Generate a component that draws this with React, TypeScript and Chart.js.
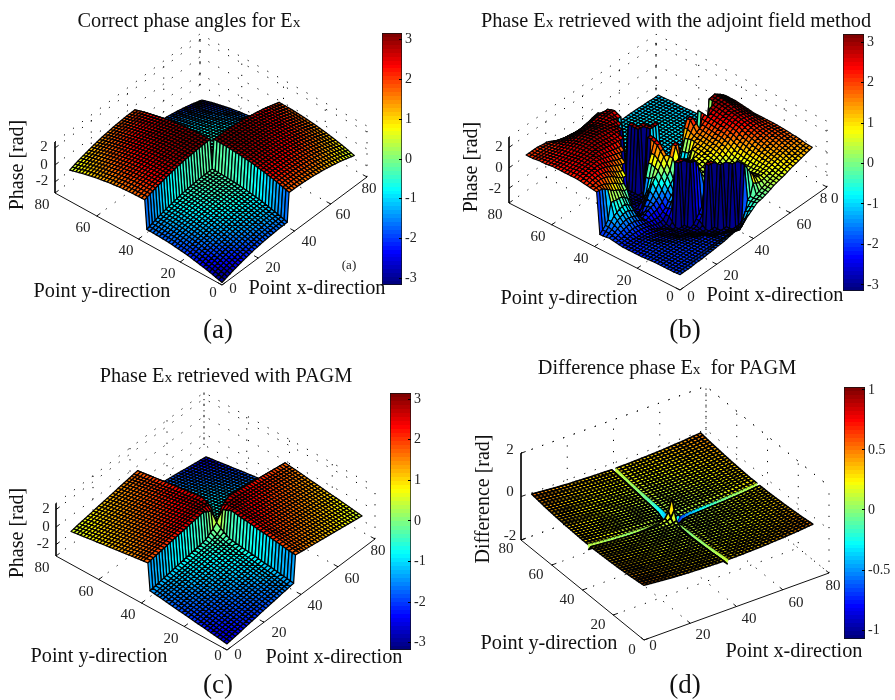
import React, { useEffect, useRef } from 'react';
import { Chart, registerables } from 'chart.js';

Chart.register(...registerables);

const FONT = '"Liberation Serif"';

// ---- tick labels ----
const axisTicks = [0, 20, 40, 60, 80];
const axisTickLabels = ['0', '20', '40', '60', '80'];
const axisTickLabelsB = ['0', '20', '40', '60', '8 0'];
const phaseZTicks = [-2, 0, 2];
const diffZTicks = [-2, 0, 2];
const phaseBarTicks = [-3, -2, -1, 0, 1, 2, 3];
const diffBarTicks = [-1, -0.5, 0, 0.5, 1];

// ---- grids (point index along each direction) ----
const gridA = [0, 6, 12, 18, 24, 30, 36, 37, 43, 49, 55, 61, 67, 73];
const gridB = [0, 3, 6, 9, 12, 15, 18, 21, 24, 27, 30, 33, 36, 39, 42, 45, 48, 51, 54, 57, 60, 63, 66, 69, 72];
const gridC = [0, 6, 12, 18, 24, 30, 34, 36, 37, 39, 43, 49, 55, 61, 67, 73];
const gridD = [0, 8, 16, 24, 30, 33, 34.5, 36, 36.4, 38, 40, 43, 49, 57, 65, 73];

// ---- phase values, one row per y grid line ----
const phaseA = [
  [-3.01, -2.58, -2.24, -1.97, -1.78, -1.67, -1.63, 1.72, 1.68, 1.57, 1.38, 1.11, 0.77, 0.34],
  [-2.58, -2.15, -1.81, -1.54, -1.35, -1.24, -1.2, 2.15, 2.11, 2.0, 1.81, 1.54, 1.2, 0.77],
  [-2.24, -1.81, -1.47, -1.2, -1.01, -0.9, -0.86, 2.49, 2.45, 2.34, 2.15, 1.88, 1.54, 1.11],
  [-1.97, -1.54, -1.2, -0.93, -0.74, -0.63, -0.59, 2.76, 2.72, 2.61, 2.42, 2.15, 1.81, 1.38],
  [-1.78, -1.35, -1.01, -0.74, -0.55, -0.44, -0.4, 2.95, 2.91, 2.8, 2.61, 2.34, 2.0, 1.57],
  [-1.67, -1.24, -0.9, -0.63, -0.44, -0.33, -0.29, 3.06, 3.02, 2.91, 2.72, 2.45, 2.11, 1.68],
  [-1.63, -1.2, -0.86, -0.59, -0.4, -0.29, -0.25, 3.1, 3.06, 2.95, 2.76, 2.49, 2.15, 1.72],
  [1.72, 2.15, 2.49, 2.76, 2.95, 3.06, 3.1, -0.25, -0.29, -0.4, -0.59, -0.86, -1.2, -1.63],
  [1.68, 2.11, 2.45, 2.72, 2.91, 3.02, 3.06, -0.29, -0.33, -0.44, -0.63, -0.9, -1.24, -1.67],
  [1.57, 2.0, 2.34, 2.61, 2.8, 2.91, 2.95, -0.4, -0.44, -0.55, -0.74, -1.01, -1.35, -1.78],
  [1.38, 1.81, 2.15, 2.42, 2.61, 2.72, 2.76, -0.59, -0.63, -0.74, -0.93, -1.2, -1.54, -1.97],
  [1.11, 1.54, 1.88, 2.15, 2.34, 2.45, 2.49, -0.86, -0.9, -1.01, -1.2, -1.47, -1.81, -2.24],
  [0.77, 1.2, 1.54, 1.81, 2.0, 2.11, 2.15, -1.2, -1.24, -1.35, -1.54, -1.81, -2.15, -2.58],
  [0.34, 0.77, 1.11, 1.38, 1.57, 1.68, 1.72, -1.63, -1.67, -1.78, -1.97, -2.24, -2.58, -3.01],
];

const phaseB = [
  [-1.95, -1.95, -1.95, -1.9, -1.9, -1.85, -1.8, -1.75, -1.7, -1.6, -1.5, -1.4, -1.0, -0.6, -0.2, -0.1, 0.1, 0.35, 0.5, 0.65, 0.85, 1, 1.15, 1.3, 1.45],
  [-2, -2, -2, -2, -2, -2, -2, -2, -2, -2.05, -2.1, -2.2, -2.4, -1.0, -0.4, -0.1, 0.15, 0.4, 0.6, 0.8, 1, 1.15, 1.3, 1.4, 1.5],
  [-2, -2, -2, -2, -2, -2, -2, -2.05, -2.1, -2.2, -2.3, -2.5, -2.8, -3, 2.9, 1.8, 0.9, 0.7, 0.8, 1, 1.2, 1.4, 1.5, 1.6, 1.65],
  [-2, -2, -2, -2, -2, -2, -2.05, -2.1, -2.1, -2.4, -2.8, -3.05, -3.1, 3, 2.9, 1.6, 0.8, 0.6, 0.8, 1.1, 1.3, 1.5, 1.7, 1.75, 1.7],
  [-2, -2, -2, -2, -2, -2, -2.1, -2.2, -2.4, -2.7, -3, -3.1, 3, 2.9, 2, 1.1, 0.5, 0.5, 0.8, 1.2, 1.5, 1.7, 1.9, 1.9, 1.8],
  [-2.05, -2, -2, -2, -2, -2.1, -2.2, -2.4, -2.6, -2.9, -3.1, 3, 2.9, 1.9, 1.2, 0.6, 0.3, 0.5, 0.9, 1.3, 1.7, 1.9, 2, 2, 1.85],
  [-2.1, -2.05, -2, -2, -2.1, -2.2, -2.4, -2.7, -2.9, -3, -2.9, -2.2, -1.3, -0.5, 0, 0.3, 0.3, 0.6, 1, 1.5, 1.9, 2.1, 2.1, 2, 1.9],
  [-2.1, -2.1, -2.05, -2.05, -2.2, -2.3, -2.5, -2.8, -3, -3.1, 3, 2.8, 1.2, 0.2, 0.2, 0.4, 0.5, 0.8, 1.2, 1.7, 2.1, 2.3, 2.3, 2.1, 1.9],
  [-2.1, -2.1, -2.1, -2.1, -2.2, -2.4, -2.6, -2.7, -3.1, 3, 2.9, 2.5, 0.8, 0.4, 0.5, 0.7, 0.9, 1.2, 1.6, 2, 2.4, 2.5, 2.4, 2.2, 1.9],
  [-2.1, -2.1, -2.1, -2.2, -2.2, -2.3, -2.6, -2.9, -2.9, -1.8, -0.8, -0.5, -0.4, 0.7, 0.7, 0.9, 1.1, 1.4, 1.8, 2.2, 2.5, 2.7, 2.6, 2.3, 1.9],
  [-2, -2, -1.9, -1.8, -1.9, -2.1, -2.3, -2.4, -2.4, -2, -1.2, -0.8, 0.8, -0.8, 0.9, 1, 1.2, 1.5, 1.9, 2.3, 2.6, 2.8, 2.7, 2.4, 2],
  [-1.9, -1.7, -1.4, -1.2, -1.3, -1.6, -2.2, -1.8, -1.6, -1.2, -0.3, 0.6, 2.6, -1, -0.9, 1.1, 1.3, 1.6, 2, 2.4, 2.7, 2.9, 2.9, 2.5, 2.1],
  [-2, -1.5, -0.8, -0.5, -0.4, -0.9, -2.5, -2.4, -1.4, -0.2, 0.6, 1.6, -1, -1, -1, -0.9, 1.4, 1.7, 2.1, 2.5, 2.8, 3, 3, 2.6, 2.2],
  [2, 1.9, 1.5, 1, 0.7, 0.2, -2.6, -2.9, -2.8, -1.5, 0.9, 2.4, -1, -1, -1, -1, 1.2, 2.6, -0.3, 2.6, 0.2, 3, 3.1, 2.7, 2.2],
  [2.1, 2.2, 2.2, 2, 1.7, 1.2, 0.8, -2.6, -2.9, -2.9, -3, 2.7, -1, -1, -1, -1, -1, -1, -1, -1, -1, -1, -1, -1, -1],
  [2.2, 2.4, 2.5, 2.5, 2.3, 2, 1.7, 1.4, -2.8, -3, -3.1, -3.1, 3, 2.9, -1, -1, -1, -1, -1, -1, -1, -1, -1, -1, -1],
  [2.3, 2.5, 2.6, 2.7, 2.7, 2.5, 2.3, 2.1, 1.9, -3, -3.1, 3, 2.9, -1, -1, -1, -1, -0.95, -0.95, -0.95, -1, -1, -1, -1, -1],
  [2.3, 2.5, 2.6, 2.7, 2.8, 2.8, 2.7, 2.6, 2.5, 2.4, -3.1, 3, -1, -1, -0.95, -0.95, -0.9, -0.9, -0.9, -0.95, -0.95, -1, -1, -1, -1],
  [2.3, 2.4, 2.6, 2.7, 2.8, 2.9, 2.9, 2.8, 2.7, 2.7, 2.6, -1, -0.95, -0.95, -0.9, -0.9, -0.9, -0.9, -0.9, -0.9, -0.95, -0.95, -1, -1, -1],
  [2.3, 2.4, 2.5, 2.6, 2.8, 2.9, 3, 3, 2.9, 2.8, 2.7, 2.4, -0.95, -0.95, -0.9, -0.9, -0.85, -0.85, -0.9, -0.9, -0.9, -0.95, -1, -1, -1],
  [2.3, 2.3, 2.4, 2.5, 2.7, 2.8, 2.9, 2.9, 2.9, 2.8, 2.7, 2.7, 2.4, -0.95, -0.9, -0.9, -0.85, -0.85, -0.85, -0.9, -0.9, -0.95, -1, -1, -1.05],
  [2.2, 2.3, 2.3, 2.4, 2.5, 2.6, 2.7, 2.7, 2.7, 2.6, 2.6, 2.7, 2.7, -0.95, -0.9, -0.9, -0.85, -0.85, -0.9, -0.9, -0.95, -0.95, -1, -1, -1.05],
  [2.2, 2.2, 2.2, 2.2, 2.3, 2.3, 2.3, 2.3, 2.3, 2.3, 2.4, 2.5, 2.5, -0.95, -0.9, -0.9, -0.9, -0.9, -0.9, -0.95, -0.95, -1, -1, -1.05, -1.05],
  [2.1, 2.1, 2.1, 2.1, 2.1, 2, 1.9, 1.8, 1.7, 1.7, 1.8, 1.9, 1.9, 1.5, -0.95, -0.95, -0.95, -0.95, -0.95, -1, -1, -1, -1.05, -1.05, -1.1],
  [2.1, 2.1, 2.1, 2, 1.9, 1.6, 1.3, 1.1, 1, 0.9, 0.9, 1, 1.2, 1.3, 0.8, -0.9, -1, -1, -1, -1, -1, -1.05, -1.05, -1.1, -1.1],
];

const phaseC = [
  [-2.6, -2.39, -2.18, -1.97, -1.77, -1.56, -1.43, -1.37, 1.68, 1.62, 1.49, 1.28, 1.08, 0.87, 0.66, 0.45],
  [-2.39, -2.18, -1.97, -1.76, -1.56, -1.35, -1.22, -1.16, 1.89, 1.83, 1.7, 1.49, 1.29, 1.08, 0.87, 0.66],
  [-2.18, -1.97, -1.76, -1.55, -1.35, -1.14, -1.01, -0.95, 2.1, 2.04, 1.91, 1.7, 1.5, 1.29, 1.08, 0.87],
  [-1.97, -1.76, -1.55, -1.34, -1.14, -0.93, -0.8, -0.74, 2.31, 2.25, 2.12, 1.91, 1.71, 1.5, 1.29, 1.08],
  [-1.77, -1.56, -1.35, -1.14, -0.94, -0.73, -0.6, -0.54, 2.51, 2.45, 2.32, 2.11, 1.91, 1.7, 1.49, 1.28],
  [-1.56, -1.35, -1.14, -0.93, -0.73, -0.52, -0.39, -0.33, 2.72, 2.66, 2.53, 2.32, 2.12, 1.91, 1.7, 1.49],
  [-1.43, -1.22, -1.01, -0.8, -0.6, -0.39, -0.05, 0.3, 2.3, 2.6, 2.66, 2.45, 2.25, 2.04, 1.83, 1.62],
  [-1.37, -1.16, -0.95, -0.74, -0.54, -0.33, 0.3, 0.7, 1.1, 2.2, 2.72, 2.51, 2.31, 2.1, 1.89, 1.68],
  [1.68, 1.89, 2.1, 2.31, 2.51, 2.72, 2.2, 1.1, 0.6, 0.25, -0.33, -0.54, -0.74, -0.95, -1.16, -1.37],
  [1.62, 1.83, 2.04, 2.25, 2.45, 2.66, 2.6, 2.2, 0.25, -0.05, -0.39, -0.6, -0.8, -1.01, -1.22, -1.43],
  [1.49, 1.7, 1.91, 2.12, 2.32, 2.53, 2.66, 2.72, -0.33, -0.39, -0.52, -0.73, -0.93, -1.14, -1.35, -1.56],
  [1.28, 1.49, 1.7, 1.91, 2.11, 2.32, 2.45, 2.51, -0.54, -0.6, -0.73, -0.94, -1.14, -1.35, -1.56, -1.77],
  [1.08, 1.29, 1.5, 1.71, 1.91, 2.12, 2.25, 2.31, -0.74, -0.8, -0.93, -1.14, -1.34, -1.55, -1.76, -1.97],
  [0.87, 1.08, 1.29, 1.5, 1.7, 1.91, 2.04, 2.1, -0.95, -1.01, -1.14, -1.35, -1.55, -1.76, -1.97, -2.18],
  [0.66, 0.87, 1.08, 1.29, 1.49, 1.7, 1.83, 1.89, -1.16, -1.22, -1.35, -1.56, -1.76, -1.97, -2.18, -2.39],
  [0.45, 0.66, 0.87, 1.08, 1.28, 1.49, 1.62, 1.68, -1.37, -1.43, -1.56, -1.77, -1.97, -2.18, -2.39, -2.6],
];

const differenceD = [
  [0.52, 0.44, 0.38, 0.34, 0.32, 0.31, 0.31, 0.12, 0.31, 0.31, 0.31, 0.32, 0.34, 0.38, 0.44, 0.52],
  [0.44, 0.36, 0.3, 0.26, 0.24, 0.23, 0.23, 0.07, 0.23, 0.23, 0.23, 0.24, 0.26, 0.3, 0.36, 0.44],
  [0.38, 0.3, 0.23, 0.19, 0.17, 0.17, 0.17, 0.03, 0.17, 0.17, 0.17, 0.17, 0.19, 0.23, 0.3, 0.38],
  [0.34, 0.26, 0.19, 0.15, 0.13, 0.13, 0.13, 0.0, 0.13, 0.13, 0.13, 0.13, 0.15, 0.19, 0.26, 0.34],
  [0.32, 0.24, 0.17, 0.13, 0.11, 0.11, 0.12, 0.03, 0.1, 0.11, 0.11, 0.11, 0.13, 0.17, 0.24, 0.32],
  [0.31, 0.23, 0.17, 0.13, 0.11, 0.12, 0.15, 0.2, 0.05, 0.05, 0.1, 0.11, 0.13, 0.17, 0.23, 0.31],
  [0.31, 0.23, 0.17, 0.13, 0.14, 0.2, 0.3, 0.6, -0.4, -0.1, 0.05, 0.1, 0.13, 0.17, 0.23, 0.31],
  [0.1, 0.06, 0.03, 0.06, 0.12, 0.25, 0.5, 1.1, 0.5, -0.7, -0.6, -0.45, -0.25, -0.05, 0.06, 0.1],
  [0.31, 0.23, 0.17, 0.13, 0.11, 0.15, 0.3, 0.8, 0.1, -0.3, 0.05, 0.1, 0.13, 0.17, 0.23, 0.31],
  [0.31, 0.23, 0.17, 0.13, 0.1, 0.05, -0.1, -0.5, -0.3, -0.05, 0.05, 0.1, 0.13, 0.17, 0.23, 0.31],
  [0.31, 0.23, 0.17, 0.13, 0.11, 0.05, -0.05, -0.4, 0.05, -0.02, 0.08, 0.1, 0.13, 0.17, 0.23, 0.31],
  [0.32, 0.24, 0.17, 0.13, 0.11, 0.1, 0.08, -0.3, 0.1, 0.08, 0.1, 0.11, 0.13, 0.17, 0.24, 0.32],
  [0.34, 0.26, 0.19, 0.15, 0.13, 0.13, 0.13, -0.12, 0.13, 0.13, 0.13, 0.13, 0.15, 0.19, 0.26, 0.34],
  [0.38, 0.3, 0.23, 0.19, 0.17, 0.17, 0.17, 0.0, 0.17, 0.17, 0.17, 0.17, 0.19, 0.23, 0.3, 0.38],
  [0.44, 0.36, 0.3, 0.26, 0.24, 0.23, 0.23, 0.07, 0.23, 0.23, 0.23, 0.24, 0.26, 0.3, 0.36, 0.44],
  [0.52, 0.44, 0.38, 0.34, 0.32, 0.31, 0.31, 0.12, 0.31, 0.31, 0.31, 0.32, 0.34, 0.38, 0.44, 0.52],
];

// ---- helpers ----
function jet(t: number): string {
  const q = Math.min(63, Math.max(0, Math.floor(t * 64))) / 63;
  const c = (v: number) => Math.round(255 * Math.max(0, Math.min(1, v)));
  const r = 1.5 - Math.abs(4 * q - 3);
  const g = 1.5 - Math.abs(4 * q - 2);
  const b = 1.5 - Math.abs(4 * q - 1);
  return `rgb(${c(r)},${c(g)},${c(b)})`;
}

type Seg = { t: string; small?: boolean };
type Panel = any;

const panels: Panel[] = [
  {
    name: 'a',
    box: { left: 0, top: 0, width: 447, height: 345 },
    origin: [222, 285], xEnd: [367, 177], yEnd: [55, 193], zPx: 8.5, zMin: -3.3, zMax: 2.7,
    grid: gridA, values: phaseA, step: 1.5, meshWidth: 1.25, clim: [-3.17, 3.17], zTicks: phaseZTicks,
    xLabels: axisTickLabels,
    xLabelPos: [[233, 289], [273, 268], [309, 242], [343, 215], [369, 189]],
    yLabelPos: [[213, 293], [168, 274], [126, 251], [83, 228], [42, 205]],
    zLabelPos: [[42, 181], [44, 165], [44, 147]], zLabels: ['-2', '0', '2'],
    zTitle: ['Phase [rad]', 18, 165], yTitle: ['Point y-direction', 102, 292], xTitle: ['Point x-direction', 317, 289],
    title: [{ t: 'Correct phase angles for E' }, { t: 'x', small: true }], titlePos: [189, 21],
    caption: ['(a)', 218, 331],
    note: ['(a)', 349, 266],
    bar: { left: 382, top: 33, width: 20, height: 252, min: -3.17, max: 3.17, ticks: phaseBarTicks, labels: null },
  },
  {
    name: 'b',
    box: { left: 447, top: 0, width: 448, height: 345 },
    origin: [680, 290], xEnd: [827, 187], yEnd: [509, 203], zPx: 10.2, zMin: -3.45, zMax: 3,
    grid: gridB, values: phaseB, step: 1.5, meshWidth: 1.15, clim: [-3.15, 3.2], zTicks: phaseZTicks,
    xLabels: axisTickLabelsB,
    xLabelPos: [[691, 297], [731, 276], [762, 251], [804, 225], [829, 199]],
    yLabelPos: [[670, 297], [624, 281], [581, 259], [538, 237], [495, 215]],
    zLabelPos: [[495, 189], [499, 168], [499, 147]], zLabels: ['-2', '0', '2'],
    zTitle: ['Phase [rad]', 472, 167], yTitle: ['Point y-direction', 569, 299], xTitle: ['Point x-direction', 775, 296],
    title: [{ t: 'Phase E' }, { t: 'x', small: true }, { t: ' retrieved with the adjoint field method' }], titlePos: [676, 21],
    caption: ['(b)', 685, 331],
    bar: { left: 843, top: 34, width: 21, height: 257, min: -3.15, max: 3.2, ticks: phaseBarTicks, labels: null },
  },
  {
    name: 'c',
    box: { left: 0, top: 345, width: 447, height: 355 },
    origin: [227, 650], xEnd: [375, 539], yEnd: [56, 556], zPx: 8.75, zMin: -3.3, zMax: 2.7,
    grid: gridC, values: phaseC, step: 1.5, meshWidth: 1.25, clim: [-3.18, 3.15], zTicks: phaseZTicks,
    xLabels: axisTickLabels,
    xLabelPos: [[238, 655], [279, 633], [315, 606], [352, 579], [378, 551]],
    yLabelPos: [[218, 656], [171, 639], [128, 615], [86, 592], [42, 568]],
    zLabelPos: [[43, 544], [46, 527], [46, 509]], zLabels: ['-2', '0', '2'],
    zTitle: ['Phase [rad]', 18, 533], yTitle: ['Point y-direction', 99, 657], xTitle: ['Point x-direction', 334, 658],
    title: [{ t: 'Phase E' }, { t: 'x', small: true }, { t: ' retrieved with PAGM' }], titlePos: [226, 376],
    caption: ['(c)', 218, 686],
    bar: { left: 390, top: 393, width: 21, height: 257, min: -3.18, max: 3.15, ticks: phaseBarTicks, labels: null },
  },
  {
    name: 'd',
    box: { left: 447, top: 345, width: 448, height: 355 },
    origin: [644, 640], xEnd: [829, 573], yEnd: [521, 540], zPx: 21.7, zMin: -2, zMax: 2,
    grid: gridD, values: differenceD, step: 1.5, meshWidth: 1.6, clim: [-1.075, 1.025], zTicks: diffZTicks,
    xLabels: axisTickLabels,
    xLabelPos: [[653, 646], [703, 635], [749, 619], [796, 603], [833, 586]],
    yLabelPos: [[632, 650], [598, 625], [567, 600], [536, 575], [506, 549]],
    zLabelPos: [[510, 536], [510, 492], [510, 450]], zLabels: ['-2', '0', '2'],
    zTitle: ['Difference [rad]', 484, 499], yTitle: ['Point y-direction', 549, 644], xTitle: ['Point x-direction', 794, 652],
    title: [{ t: 'Difference phase E' }, { t: 'x', small: true }, { t: '  for PAGM' }], titlePos: [667, 368],
    caption: ['(d)', 685, 686],
    bar: { left: 844, top: 387, width: 21, height: 252, min: -1.075, max: 1.025, ticks: diffBarTicks, labels: null },
  },
];

function projector(p: Panel) {
  const ex = [(p.xEnd[0] - p.origin[0]) / 80, (p.xEnd[1] - p.origin[1]) / 80];
  const ey = [(p.yEnd[0] - p.origin[0]) / 80, (p.yEnd[1] - p.origin[1]) / 80];
  return (x: number, y: number, z: number) => ({
    x: p.origin[0] + x * ex[0] + y * ey[0],
    y: p.origin[1] + x * ex[1] + y * ey[1] - (z - p.zMin) * p.zPx,
  });
}

function along(a: number, b: number, s: number) {
  if (Math.abs(b - a) > 2.5) return s < 1 ? a : b;
  return a + (b - a) * s;
}

function SurfacePanel({ panel }: { panel: Panel }) {
  const ref = useRef<HTMLCanvasElement>(null);
  useEffect(() => {
    const p = panel;
    const proj = projector(p);
    const line = (pts: number[][], dotted: boolean, width = 1) => ({
      data: pts.map(([x, y, z]) => proj(x, y, z)),
      showLine: true,
      pointRadius: 0,
      borderColor: dotted ? '#000' : '#111',
      borderWidth: width,
      borderDash: dotted ? [1.2, 10] : [],
      fill: false,
    });
    const sets: any[] = [];
    const { zMin, zMax, zTicks } = p;
    // floor + back wall grid
    axisTicks.forEach((t) => {
      if (t > 0) {
        sets.push(line([[t, 0, zMin], [t, 80, zMin], [t, 80, zMax]], true));
        sets.push(line([[0, t, zMin], [80, t, zMin], [80, t, zMax]], true));
      }
    });
    sets.push(line([[0, 80, zMax], [80, 80, zMax], [80, 0, zMax]], true));
    sets.push(line([[80, 80, zMin], [80, 80, zMax]], true));
    sets.push(line([[80, 0, zMin], [80, 0, zMax]], true));
    sets.push(line([[0, 80, zMax], [0, 80, zMin]], false));
    zTicks.forEach((z: number) => {
      sets.push(line([[0, 80, z], [80, 80, z], [80, 0, z]], true));
    });
    // axis lines and tick marks
    sets.push(line([[0, 0, zMin], [80, 0, zMin]], false));
    sets.push(line([[0, 0, zMin], [0, 80, zMin]], false));
    axisTicks.forEach((t) => {
      sets.push(line([[t, 0, zMin], [t, 2, zMin]], false));
      sets.push(line([[0, t, zMin], [2, t, zMin]], false));
    });
    zTicks.forEach((z: number) => sets.push(line([[0, 80, z], [2, 80, z]], false)));
    // surface nodes
    const nodes: any[] = [];
    p.values.forEach((row: number[], j: number) =>
      row.forEach((v: number, i: number) => nodes.push(proj(p.grid[i], p.grid[j], v)))
    );
    sets.push({ label: 'surface', data: nodes, showLine: false, pointRadius: 0 });

    const meshPlugin = {
      id: 'surfaceMesh',
      afterDatasetsDraw(chart: any) {
        const { ctx, scales } = chart;
        const g: number[] = p.grid;
        const V: number[][] = p.values;
        const subs: { i: number; a: number; b: number; w: number }[] = [];
        for (let i = 0; i < g.length - 1; i++) {
          const n = Math.max(1, Math.round((g[i + 1] - g[i]) / p.step));
          for (let k = 0; k < n; k++) subs.push({ i, a: k / n, b: (k + 1) / n, w: (g[i + 1] - g[i]) / n });
        }
        const zAt = (i: number, s: number, j: number, t: number) =>
          along(along(V[j][i], V[j][i + 1], s), along(V[j + 1][i], V[j + 1][i + 1], s), t);
        const pt = (i: number, s: number, j: number, t: number) => {
          const q = proj(g[i] + (g[i + 1] - g[i]) * s, g[j] + (g[j + 1] - g[j]) * t, zAt(i, s, j, t));
          return [scales.x.getPixelForValue(q.x), scales.y.getPixelForValue(q.y)];
        };
        ctx.save();
        ctx.lineJoin = 'round';
        const [lo, hi] = p.clim;
        for (let m = subs.length - 1; m >= 0; m--) {
          const sx = subs[m];
          for (let n = subs.length - 1; n >= 0; n--) {
            const sy = subs[n];
            const c = pt(sx.i, sx.a, sy.i, sy.a);
            const d = pt(sx.i, sx.b, sy.i, sy.a);
            const e = pt(sx.i, sx.b, sy.i, sy.b);
            const f = pt(sx.i, sx.a, sy.i, sy.b);
            ctx.beginPath();
            ctx.moveTo(c[0], c[1]);
            ctx.lineTo(d[0], d[1]);
            ctx.lineTo(e[0], e[1]);
            ctx.lineTo(f[0], f[1]);
            ctx.closePath();
            const col = jet((zAt(sx.i, sx.a, sy.i, sy.a) - lo) / (hi - lo));
            ctx.fillStyle = col;
            ctx.fill();
            // very narrow strips read as thin coloured lines
            if (Math.min(sx.w, sy.w) < 0.8) {
              ctx.strokeStyle = col;
              ctx.lineWidth = 0.4;
            } else {
              ctx.strokeStyle = '#000';
              ctx.lineWidth = p.meshWidth;
            }
            ctx.stroke();
          }
        }
        ctx.restore();
      },
      afterDraw(chart: any) {
        const { ctx, scales } = chart;
        const X = (v: number) => scales.x.getPixelForValue(v);
        const Y = (v: number) => scales.y.getPixelForValue(v);
        const text = (s: string, x: number, y: number, size: number, color = '#111') => {
          ctx.font = `${size}px ${FONT}`;
          ctx.fillStyle = color;
          ctx.textAlign = 'center';
          ctx.textBaseline = 'middle';
          ctx.fillText(s, X(x), Y(y));
        };
        ctx.save();
        p.xLabelPos.forEach((q: number[], i: number) => text(p.xLabels[i], q[0], q[1], 15, '#222'));
        p.yLabelPos.forEach((q: number[], i: number) => text(axisTickLabels[i], q[0], q[1], 15, '#222'));
        p.zLabelPos.forEach((q: number[], i: number) => text(p.zLabels[i], q[0], q[1], 15, '#222'));
        text(p.yTitle[0], p.yTitle[1], p.yTitle[2], 20.3);
        text(p.xTitle[0], p.xTitle[1], p.xTitle[2], 20.3);
        text(p.caption[0], p.caption[1], p.caption[2], 27);
        if (p.note) text(p.note[0], p.note[1], p.note[2], 13, '#222');
        // rotated z title
        ctx.save();
        ctx.translate(X(p.zTitle[1]), Y(p.zTitle[2]));
        ctx.rotate(-Math.PI / 2);
        ctx.font = `20px ${FONT}`;
        ctx.fillStyle = '#111';
        ctx.textAlign = 'center';
        ctx.textBaseline = 'middle';
        ctx.fillText(p.zTitle[0], 0, 0);
        ctx.restore();
        // title with small subscript-sized x
        const segFont = (s: Seg) => `${s.small ? 15.5 : 20.3}px ${FONT}`;
        let w = 0;
        p.title.forEach((s: Seg) => {
          ctx.font = segFont(s);
          w += ctx.measureText(s.t).width;
        });
        let cx = X(p.titlePos[0]) - w / 2;
        ctx.textAlign = 'left';
        ctx.textBaseline = 'alphabetic';
        ctx.fillStyle = '#111';
        p.title.forEach((s: Seg) => {
          ctx.font = segFont(s);
          ctx.fillText(s.t, cx, Y(p.titlePos[1]) + 6);
          cx += ctx.measureText(s.t).width;
        });
        ctx.restore();
      },
    };

    const chart = new Chart(ref.current as any, {
      type: 'scatter',
      data: { datasets: sets },
      options: {
        animation: false,
        responsive: false,
        events: [],
        layout: { padding: 0 },
        plugins: { legend: { display: false }, tooltip: { enabled: false }, title: { display: false } },
        scales: {
          x: { display: false, min: p.box.left, max: p.box.left + p.box.width },
          y: { display: false, reverse: true, min: p.box.top, max: p.box.top + p.box.height },
        },
      },
      plugins: [meshPlugin],
    } as any);
    return () => chart.destroy();
  }, [panel]);
  const b = panel.box;
  return (
    <canvas
      ref={ref}
      width={b.width}
      height={b.height}
      style={{ position: 'absolute', left: b.left, top: b.top, width: b.width, height: b.height }}
    />
  );
}

function ColorBar({ panel }: { panel: Panel }) {
  const ref = useRef<HTMLCanvasElement>(null);
  const bar = panel.bar;
  const axisW = 32;
  useEffect(() => {
    const chart = new Chart(ref.current as any, {
      type: 'bar',
      data: {
        labels: ['colormap'],
        datasets: [
          {
            data: [[bar.min, bar.max]],
            barPercentage: 1,
            categoryPercentage: 1,
            borderColor: '#111',
            borderWidth: 1,
            borderSkipped: false,
            backgroundColor: (ctx: any) => {
              const area = ctx.chart.chartArea;
              if (!area) return '#00f';
              const gr = ctx.chart.ctx.createLinearGradient(0, area.bottom, 0, area.top);
              for (let i = 0; i < 64; i++) {
                const col = jet((i + 0.5) / 64);
                gr.addColorStop(i / 64, col);
                gr.addColorStop((i + 1) / 64, col);
              }
              return gr;
            },
          },
        ],
      },
      options: {
        animation: false,
        responsive: false,
        events: [],
        layout: { autoPadding: false, padding: { left: 2, top: 3, bottom: 3, right: 0 } },
        plugins: { legend: { display: false }, tooltip: { enabled: false } },
        scales: {
          x: { display: false },
          y: {
            position: 'right',
            min: bar.min,
            max: bar.max,
            afterBuildTicks: (a: any) => {
              a.ticks = bar.ticks.map((v: number) => ({ value: v }));
            },
            afterFit: (a: any) => {
              a.width = axisW;
              a.paddingTop = 0;
              a.paddingBottom = 0;
            },
            border: { display: false },
            grid: { display: true, drawOnChartArea: false, drawTicks: true, tickLength: -3, color: '#000', z: 1 },
            ticks: {
              padding: 6,
              color: '#222',
              font: { family: FONT, size: 14 },
              callback: (v: any) => String(v),
            },
          },
        },
      },
    } as any);
    return () => chart.destroy();
  }, [panel]);
  return (
    <canvas
      ref={ref}
      width={bar.width + 2 + axisW}
      height={bar.height + 6}
      style={{
        position: 'absolute',
        left: bar.left - 2,
        top: bar.top - 3,
        width: bar.width + 2 + axisW,
        height: bar.height + 6,
      }}
    />
  );
}

export default function App() {
  return (
    <div style={{ position: 'absolute', left: 0, top: 0, width: 895, height: 700, background: '#fff', overflow: 'hidden' }}>
      {panels.map((p) => (
        <React.Fragment key={p.name}>
          <SurfacePanel panel={p} />
          <ColorBar panel={p} />
        </React.Fragment>
      ))}
    </div>
  );
}
